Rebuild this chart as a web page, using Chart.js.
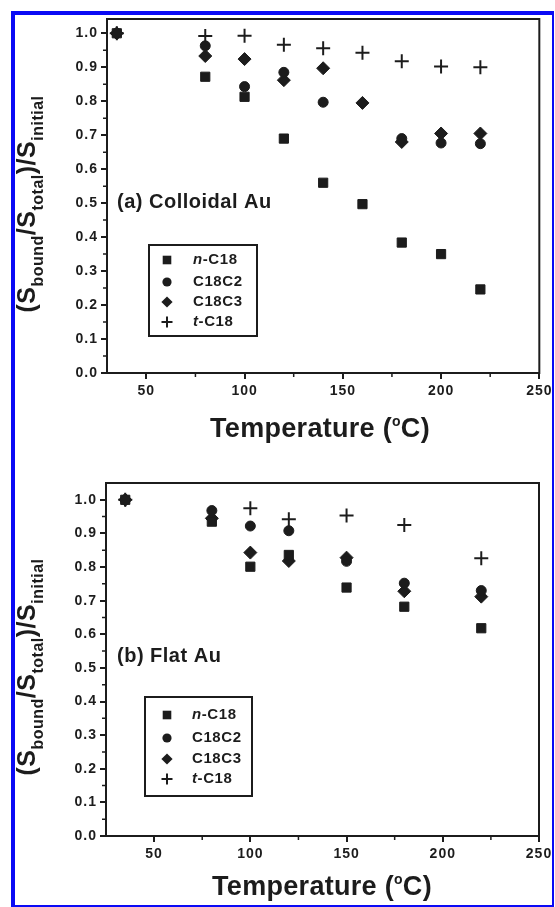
<!DOCTYPE html>
<html>
<head>
<meta charset="utf-8">
<script src="https://cdn.jsdelivr.net/npm/chart.js@4.4.0/dist/chart.umd.min.js"></script>
<style>
  html, body { margin: 0; padding: 0; background: #fff; }
  #page { position: relative; width: 555px; height: 907px; overflow: hidden; }
  canvas { position: absolute; left: 0; }
  #frame {
    position: absolute; left: 11px; top: 11px; width: 543px; height: 896px;
    box-sizing: border-box; border-style: solid; border-color: #0a0af5;
    border-width: 4px 2px 2px 4px; pointer-events: none;
  }
</style>
</head>
<body>
<div id="page">
  <canvas id="colloidal" width="555" height="460" style="top:0"></canvas>
  <canvas id="flat" width="555" height="447" style="top:460px"></canvas>
  <div id="frame"></div>
</div>
<script>
const FONT = '"Liberation Sans", Arial, Helvetica, sans-serif';
const INK = '#1c1c1c';

// series and tick data
const seriesNames = ['n-C18', 'C18C2', 'C18C3', 't-C18'];
const markerStyles = ['rect', 'circle', 'rectRot', 'cross'];
const markerRadii = [6.5, 5, 6.5, 7];

const xTicks = [50, 100, 150, 200, 250];
const xMinorTicks = [75, 125, 175, 225];
const yTicks = [0, 0.1, 0.2, 0.3, 0.4, 0.5, 0.6, 0.7, 0.8, 0.9, 1.0];
const yMinorTicks = [0.05, 0.15, 0.25, 0.35, 0.45, 0.55, 0.65, 0.75, 0.85, 0.95];

// (a) colloidal Au
const tempColloidal = [35, 80, 100, 120, 140, 160, 180, 200, 220];
const nC18Colloidal = [1.0, 0.872, 0.813, 0.69, 0.56, 0.497, 0.384, 0.35, 0.246];
const c18c2Colloidal = [1.0, 0.963, 0.843, 0.885, 0.797, null, 0.69, 0.677, 0.675];
const c18c3Colloidal = [1.0, 0.933, 0.924, 0.862, 0.897, 0.795, 0.68, 0.705, 0.705];
const tC18Colloidal = [1.0, 0.992, 0.993, 0.966, 0.956, 0.943, 0.918, 0.902, 0.9];

// (b) flat Au
const tempFlat = [35, 80, 100, 120, 150, 180, 220];
const nC18Flat = [1.0, 0.935, 0.801, 0.836, 0.739, 0.682, 0.618];
const c18c2Flat = [1.0, 0.968, 0.922, 0.908, 0.817, 0.752, 0.73];
const c18c3Flat = [1.0, 0.945, 0.843, 0.818, 0.828, 0.728, 0.712];
const tC18Flat = [1.0, null, 0.975, 0.942, 0.953, 0.925, 0.826];

function drawParts(ctx, parts) {
  // parts: [{t, font, dy}] drawn left to right, centred on 0
  let total = 0;
  parts.forEach(p => { ctx.font = p.font; p.w = ctx.measureText(p.t).width; total += p.w; });
  let x = -total / 2;
  parts.forEach(p => { ctx.font = p.font; ctx.fillText(p.t, x, p.dy || 0); x += p.w; });
}

function legendMark(ctx, style, cx, cy) {
  ctx.beginPath();
  if (style === 'rect') {
    ctx.rect(cx - 4.3, cy - 4.3, 8.6, 8.6); ctx.fill();
  } else if (style === 'circle') {
    ctx.arc(cx, cy, 4.6, 0, Math.PI * 2); ctx.fill();
  } else if (style === 'rectRot') {
    ctx.moveTo(cx, cy - 5.6); ctx.lineTo(cx + 5.6, cy); ctx.lineTo(cx, cy + 5.6); ctx.lineTo(cx - 5.6, cy);
    ctx.closePath(); ctx.fill();
  } else {
    ctx.lineWidth = 2;
    ctx.moveTo(cx - 5.5, cy); ctx.lineTo(cx + 5.5, cy);
    ctx.moveTo(cx, cy - 5.5); ctx.lineTo(cx, cy + 5.5); ctx.stroke();
  }
}

const decor = {
  id: 'decor',
  beforeDraw(chart) {
    chart.ctx.letterSpacing = '1px';
  },
  afterDraw(chart, args, o) {
    const ctx = chart.ctx, a = chart.chartArea;
    const xs = chart.scales.x, ys = chart.scales.y;
    ctx.save();
    ctx.strokeStyle = INK; ctx.fillStyle = INK;

    // top and right edges of the frame
    ctx.lineWidth = 2;
    ctx.beginPath();
    ctx.moveTo(a.left, a.top); ctx.lineTo(a.right, a.top); ctx.lineTo(a.right, a.bottom + 1);
    ctx.stroke();

    // minor ticks
    ctx.lineWidth = 1.5;
    ctx.beginPath();
    xMinorTicks.forEach(v => {
      const px = xs.getPixelForValue(v);
      ctx.moveTo(px, a.bottom); ctx.lineTo(px, a.bottom + 4);
    });
    yMinorTicks.forEach(v => {
      const py = ys.getPixelForValue(v);
      ctx.moveTo(a.left, py); ctx.lineTo(a.left - 4, py);
    });
    ctx.stroke();

    ctx.translate(0, -o.top);
    ctx.textBaseline = 'alphabetic';
    ctx.textAlign = 'left';

    // y title
    ctx.save();
    ctx.letterSpacing = '0.5px';
    ctx.translate(o.yTitleX, o.yTitleY);
    ctx.rotate(-Math.PI / 2);
    const big = 'bold 25px ' + FONT, small = 'bold 16px ' + FONT;
    drawParts(ctx, [
      { t: '(S', font: big }, { t: 'bound', font: small, dy: 8 },
      { t: '/S', font: big }, { t: 'total', font: small, dy: 8 },
      { t: ')/S', font: big }, { t: 'initial', font: small, dy: 8 }
    ]);
    ctx.restore();

    // x title
    ctx.save();
    ctx.letterSpacing = '0.3px';
    ctx.translate(o.xTitleX, o.xTitleY);
    drawParts(ctx, [
      { t: 'Temperature (', font: 'bold 27px ' + FONT },
      { t: 'o', font: 'bold 14px ' + FONT, dy: -11 },
      { t: 'C)', font: 'bold 27px ' + FONT }
    ]);
    ctx.restore();

    // panel label
    ctx.letterSpacing = '0.5px';
    ctx.font = 'bold 20px ' + FONT;
    ctx.fillText(o.label, o.labelX, o.labelY);

    // legend box
    const L = o.legend;
    ctx.lineWidth = 2;
    ctx.strokeRect(L.x, L.y, L.w, L.h);
    ctx.textBaseline = 'middle';
    ctx.letterSpacing = '0.6px';
    seriesNames.forEach((name, i) => {
      const cy = L.rows[i];
      legendMark(ctx, markerStyles[i], L.markX, cy);
      const m = name.match(/^([nt])(-.*)$/);
      let tx = L.textX;
      if (m) {
        ctx.font = 'italic bold 15px ' + FONT;
        ctx.fillText(m[1], tx, cy);
        tx += ctx.measureText(m[1]).width;
        ctx.font = 'bold 15px ' + FONT;
        ctx.fillText(m[2], tx, cy);
      } else {
        ctx.font = 'bold 15px ' + FONT;
        ctx.fillText(name, tx, cy);
      }
    });
    ctx.restore();
  }
};

function makeChart(id, cfg) {
  const datasets = cfg.series.map((vals, i) => ({
    label: seriesNames[i],
    data: cfg.temps.map((t, j) => ({ x: t, y: vals[j] })).filter(p => p.y !== null),
    pointStyle: markerStyles[i],
    pointRadius: markerRadii[i],
    pointHoverRadius: markerRadii[i],
    pointBackgroundColor: INK,
    pointBorderColor: INK,
    pointBorderWidth: markerStyles[i] === 'cross' ? 2 : 1,
    showLine: false
  }));
  const tickFont = { family: FONT, size: 14, weight: 'bold' };
  return new Chart(document.getElementById(id), {
    type: 'scatter',
    data: { datasets },
    options: {
      responsive: false,
      animation: false,
      events: [],
      layout: { padding: cfg.padding },
      plugins: { legend: { display: false }, tooltip: { enabled: false }, decor: cfg.decor },
      scales: {
        x: {
          type: 'linear', min: cfg.xMin, max: 250,
          afterBuildTicks: s => { s.ticks = xTicks.map(v => ({ value: v })); },
          afterFit: s => { s.height = cfg.xAxisHeight; },
          grid: { drawOnChartArea: false, tickLength: 6, tickColor: INK, lineWidth: 2 },
          border: { color: INK, width: 2 },
          ticks: { color: INK, font: tickFont, padding: 4, maxRotation: 0, autoSkip: false }
        },
        y: {
          type: 'linear', min: 0, max: cfg.yMax,
          afterBuildTicks: s => { s.ticks = yTicks.map(v => ({ value: v })); },
          afterFit: s => { s.width = cfg.yAxisWidth; },
          grid: { drawOnChartArea: false, tickLength: 6, tickColor: INK, lineWidth: 2 },
          border: { color: INK, width: 2 },
          ticks: { color: INK, font: tickFont, padding: 3, callback: v => v.toFixed(1) }
        }
      }
    },
    plugins: [decor]
  });
}

makeChart('colloidal', {
  temps: tempColloidal,
  series: [nC18Colloidal, c18c2Colloidal, c18c3Colloidal, tC18Colloidal],
  xMin: 30, yMax: 1.042,
  padding: { left: 0, top: 19, right: 15, bottom: 0 },
  yAxisWidth: 107, xAxisHeight: 87,
  decor: {
    top: 0,
    yTitleX: 35, yTitleY: 204,
    xTitleX: 320, xTitleY: 437,
    label: '(a) Colloidal Au', labelX: 117, labelY: 208,
    legend: { x: 149, y: 245, w: 108, h: 91, markX: 167, textX: 193, rows: [260, 282, 302, 322] }
  }
});

makeChart('flat', {
  temps: tempFlat,
  series: [nC18Flat, c18c2Flat, c18c3Flat, tC18Flat],
  xMin: 25, yMax: 1.05,
  padding: { left: 0, top: 23, right: 16, bottom: 0 },
  yAxisWidth: 106, xAxisHeight: 71,
  decor: {
    top: 460,
    yTitleX: 35, yTitleY: 667,
    xTitleX: 322, xTitleY: 895,
    label: '(b) Flat Au', labelX: 117, labelY: 662,
    legend: { x: 145, y: 697, w: 107, h: 99, markX: 167, textX: 192, rows: [715, 738, 759, 779] }
  }
});
</script>
</body>
</html>
